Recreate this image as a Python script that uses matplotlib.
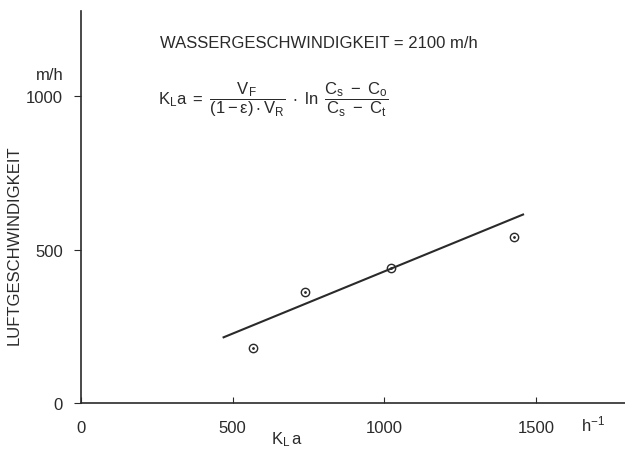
import numpy as np
import matplotlib.pyplot as plt

plt.rcParams['font.family'] = ['Liberation Sans', 'DejaVu Sans']
plt.rcParams['mathtext.fontset'] = 'custom'
plt.rcParams['mathtext.rm'] = 'Liberation Sans'
plt.rcParams['mathtext.it'] = 'Liberation Sans'
plt.rcParams['mathtext.default'] = 'regular'

# Messpunkte (K_L a in 1/h, Luftgeschwindigkeit in m/h)
kla_points = [566, 737, 1022, 1428]
air_points = [180, 363, 440, 541]

# Ausgleichsgerade (Endpunkte)
kla_line = [470, 1457]
air_line = [214, 614]

xticks = [0, 500, 1000, 1500]
yticks = [0, 500, 1000]

ink = '#2a2a2a'

fig = plt.figure(figsize=(6.25, 4.52), dpi=100)
ax = fig.add_axes([81 / 625, 48 / 452, 544 / 625, 392 / 452])

ax.plot(kla_line, air_line, color=ink, linewidth=1.5)
ax.plot(kla_points, air_points, linestyle='none', marker='o', markersize=6,
        markerfacecolor='none', markeredgecolor=ink, markeredgewidth=1.0)
ax.plot(kla_points, air_points, linestyle='none', marker='.', markersize=2, color=ink)

ax.set_xlim(0, 1793)
ax.set_ylim(0, 1277)
ax.set_xticks(xticks)
ax.set_yticks(yticks)
ax.spines['top'].set_visible(False)
ax.spines['right'].set_visible(False)
for s in ['left', 'bottom']:
    ax.spines[s].set_color(ink)
    ax.spines[s].set_linewidth(1.2)
ax.tick_params(axis='x', direction='in', length=4, pad=12, labelsize=12, colors=ink)
ax.tick_params(axis='y', direction='out', length=5, pad=8, labelsize=12, colors=ink)

fig.text(14 / 625, 1 - 245 / 452, 'LUFTGESCHWINDIGKEIT', fontsize=12, color=ink,
         rotation=90, ha='center', va='center')
fig.text(287 / 625, 1 - 440 / 452, '$K_L\\,a$', fontsize=12, color=ink,
         ha='center', va='center')

fig.text(50 / 625, 1 - 75 / 452, 'm/h', fontsize=12, color=ink, ha='center', va='center')
fig.text(593 / 625, 1 - 424 / 452, '$h^{-1}$', fontsize=12, color=ink, ha='center', va='center')
fig.text(160 / 625, 1 - 44 / 452, 'WASSERGESCHWINDIGKEIT = 2100 m/h', fontsize=12,
         color=ink, ha='left', va='center')
fig.text(158 / 625, 1 - 100 / 452,
         r'$K_L a\ =\ \dfrac{V_F}{(1-\varepsilon)\cdot V_R}\ \cdot\ \ln\ \dfrac{C_s\ -\ C_o}{C_s\ -\ C_t}$',
         fontsize=12, color=ink, ha='left', va='center')

fig.savefig('out.png', dpi=100, facecolor='white')
